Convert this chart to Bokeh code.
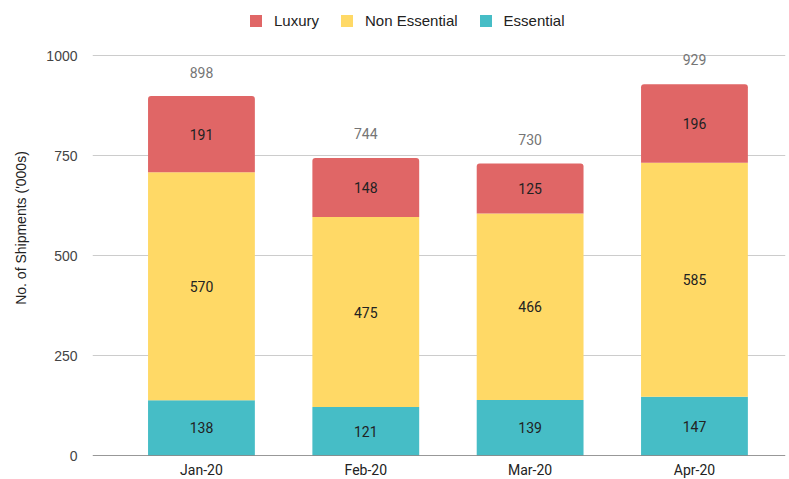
from bokeh.plotting import figure
from bokeh.models import (ColumnDataSource, LabelSet, Legend, LegendItem, FixedTicker,
                          Range1d, Span)
from bokeh.core.properties import value
from bokeh.embed import file_html
from bokeh.resources import INLINE

months = ["Jan-20", "Feb-20", "Mar-20", "Apr-20"]
essential = [138, 121, 139, 147]
non_essential = [570, 475, 466, 585]
luxury = [191, 148, 125, 196]
totals = [898, 744, 730, 929]
y_ticks = [0, 250, 500, 750, 1000]

C_LUX = "#e06666"
C_NON = "#ffd966"
C_ESS = "#46bdc6"

xs = list(range(len(months)))
e_top = essential
n_top = [e + n for e, n in zip(essential, non_essential)]
l_top = [e + n + l for e, n, l in zip(essential, non_essential, luxury)]

src = ColumnDataSource(dict(
    x=xs,
    e_bot=[0] * len(xs), e_top=e_top,
    n_bot=e_top, n_top=n_top,
    l_bot=n_top, l_top=l_top,
    e_mid=[t / 2 for t in e_top],
    n_mid=[(a + b) / 2 for a, b in zip(e_top, n_top)],
    l_mid=[(a + b) / 2 for a, b in zip(n_top, l_top)],
    e_txt=[str(v) for v in essential],
    n_txt=[str(v) for v in non_essential],
    l_txt=[str(v) for v in luxury],
    tot=totals,
    tot_txt=[str(v) for v in totals],
))

# frame spans the whole height above the axis; 1000 sits 55px below the top
p = figure(frame_width=693, frame_height=455, output_backend="svg", toolbar_location=None,
           x_range=Range1d(-0.663, 3.554), y_range=Range1d(0, 1137.5),
           min_border_left=92, min_border_right=4, min_border_top=0, min_border_bottom=0)
p.outline_line_color = None
p.background_fill_color = "white"
p.border_fill_color = "white"

W = 0.65
r_e = p.vbar(x="x", bottom="e_bot", top="e_top", width=W, source=src,
             fill_color=C_ESS, line_color=None)
r_n = p.vbar(x="x", bottom="n_bot", top="n_top", width=W, source=src,
             fill_color=C_NON, line_color=None)
r_l = p.vbar(x="x", bottom="l_bot", top="l_top", width=W, source=src,
             fill_color=C_LUX, line_color=None, border_radius=(3, 3, 0, 0))

for ycol, tcol in (("e_mid", "e_txt"), ("n_mid", "n_txt"), ("l_mid", "l_txt")):
    p.add_layout(LabelSet(x="x", y=ycol, text=tcol, source=src,
                          text_align="center", text_baseline="middle",
                          text_font=value("Roboto"), text_font_size="14px",
                          text_color="#222222"))

p.add_layout(LabelSet(x="x", y="tot", text="tot_txt", source=src, y_offset=24,
                      text_align="center", text_baseline="middle",
                      text_font=value("Roboto"), text_font_size="14px",
                      text_color="#757575"))

p.add_layout(Span(location=0, dimension="width", line_color="#333333", line_width=1))

# axes
p.xaxis.ticker = FixedTicker(ticks=xs)
p.xaxis.major_label_overrides = {i: m for i, m in enumerate(months)}
p.xaxis.axis_line_color = None
p.xaxis.major_tick_line_color = None
p.xaxis.minor_tick_line_color = None
p.xaxis.major_tick_out = 0
p.xaxis.major_label_text_font = "Roboto"
p.xaxis.major_label_text_font_size = "14px"
p.xaxis.major_label_text_color = "#222222"
p.xaxis.major_label_standoff = 6
p.xgrid.grid_line_color = None

p.yaxis.ticker = FixedTicker(ticks=y_ticks)
p.yaxis.axis_line_color = None
p.yaxis.major_tick_line_color = None
p.yaxis.minor_tick_line_color = None
p.yaxis.major_label_text_font = "Liberation Sans"
p.yaxis.major_label_text_font_size = "14px"
p.yaxis.major_label_text_color = "#444444"
p.yaxis.major_label_standoff = 9
p.yaxis.axis_label = "No. of Shipments ('000s)"
p.yaxis.axis_label_text_font = "Liberation Sans"
p.yaxis.axis_label_text_font_size = "14px"
p.yaxis.axis_label_text_font_style = "normal"
p.yaxis.axis_label_text_color = "#222222"
p.yaxis.axis_label_standoff = 14
p.ygrid.grid_line_color = "#cccccc"
p.ygrid.grid_line_width = 1

legend = Legend(items=[LegendItem(label="Luxury", renderers=[r_l]),
                       LegendItem(label="Non Essential", renderers=[r_n]),
                       LegendItem(label="Essential", renderers=[r_e])],
                orientation="horizontal", location=(156, 426),
                glyph_width=15, glyph_height=15, label_standoff=11, spacing=20,
                padding=0, margin=0, border_line_color=None,
                background_fill_alpha=0,
                label_text_font="Liberation Sans", label_text_font_size="15px",
                label_text_color="#222222")
p.add_layout(legend, "center")

open("out.html", "w").write(file_html(p, INLINE))
